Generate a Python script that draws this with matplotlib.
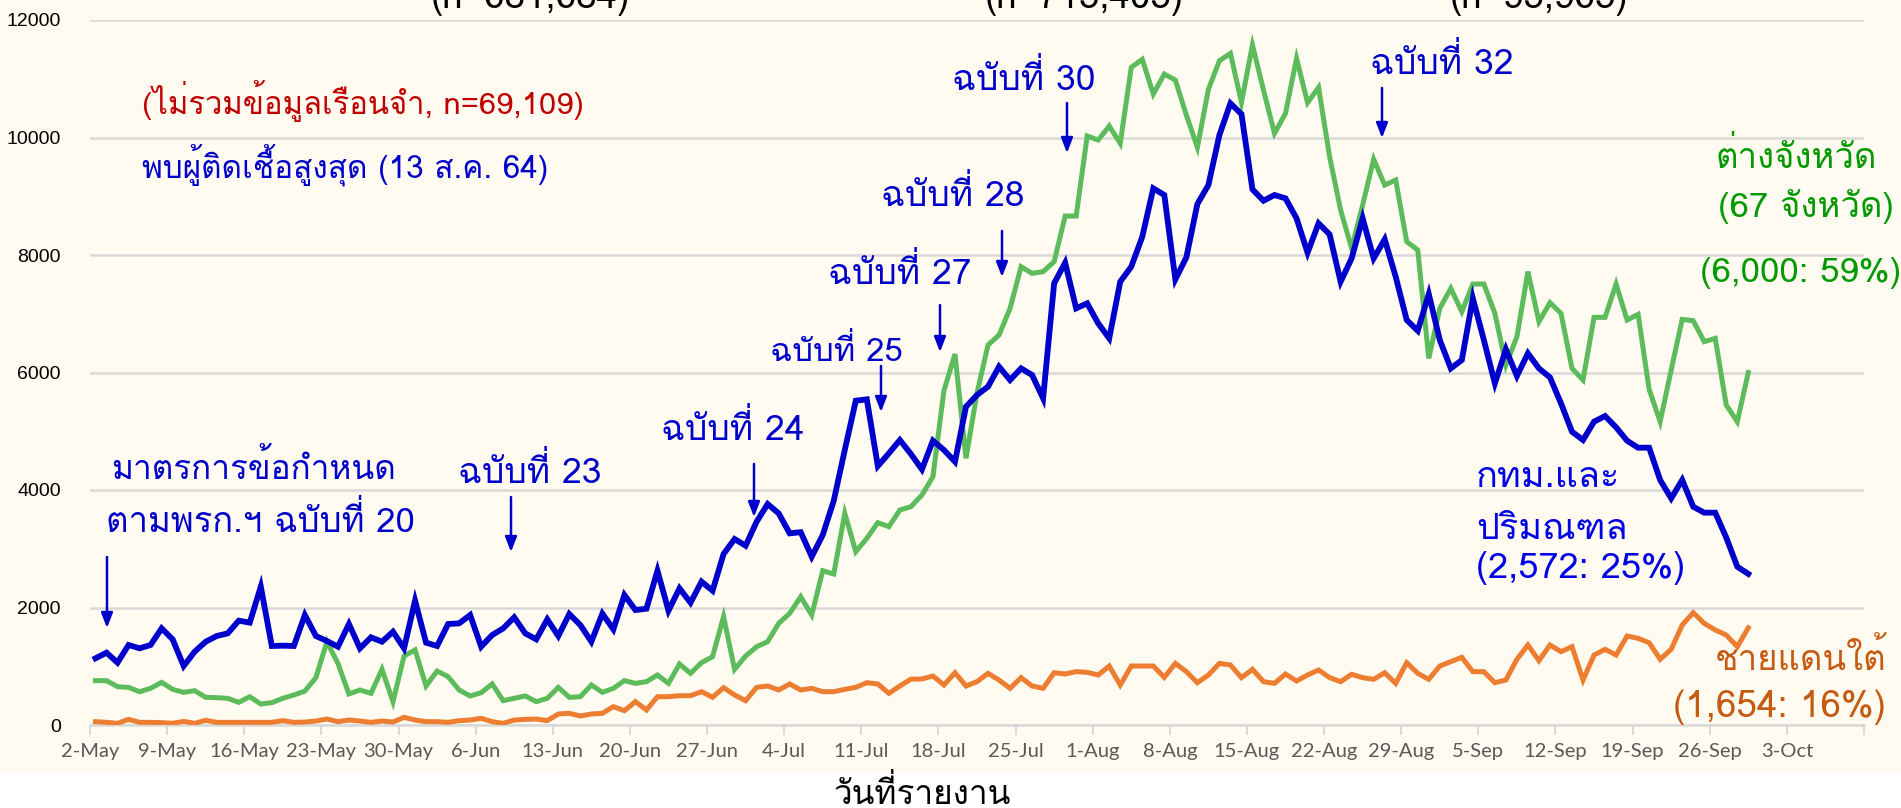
#!/usr/bin/env python3
"""Daily COVID-19 cases by region (Bangkok+vicinity / other provinces / southern border)."""

import matplotlib
matplotlib.use("Agg")
import matplotlib.pyplot as plt
from matplotlib import font_manager
from matplotlib.patches import Rectangle
import numpy as np

# ── fonts: find one that covers Thai ─────────────────────────────────
def find_thai_fonts():
    names = []
    try:
        from fontTools.ttLib import TTFont
    except Exception:
        return names
    for f in font_manager.fontManager.ttflist:
        try:
            tt = TTFont(f.fname, fontNumber=0, lazy=True)
            cmap = tt.getBestCmap() or {}
            if 0x0E01 in cmap and 0x0E49 in cmap and f.name not in names:
                names.append(f.name)
        except Exception:
            pass
    return names

thai = find_thai_fonts()
print("Thai fonts:", thai)
TXT = thai[:1] + ["DejaVu Sans"]
TICK = ["Lato", "DejaVu Sans"]

# ── data (reported daily cases, 2 May – 29 Sep 2021) ─────────────────
bkk = [1135, 1231, 1061, 1362, 1305, 1362, 1645, 1458, 1004, 1248, 1418, 1515, 1560, 1776, 1742,
       2355, 1345, 1350, 1345, 1872, 1515, 1430, 1333, 1719, 1305, 1492, 1418, 1588, 1305, 2116,
       1401, 1345, 1719, 1730, 1872, 1333, 1532, 1645, 1833, 1560, 1458, 1798, 1515, 1889, 1702,
       1418, 1895, 1628, 2213, 1957, 1980, 2627, 1946, 2326, 2082, 2440, 2286, 2910, 3166, 3052,
       3461, 3761, 3603, 3262, 3282, 2865, 3234, 3818, 4681, 5520, 5543, 4408, 4624, 4851, 4613,
       4351, 4840, 4681, 4482, 5418, 5617, 5759, 6099, 5872, 6070, 5957, 5560, 7517, 7869, 7092,
       7177, 6836, 6581, 7545, 7801, 8311, 9134, 9021, 7585, 7960, 8867, 9191, 10042, 10581, 10399,
       9117, 8924, 9021, 8964, 8624, 8039, 8539, 8351, 7545, 7943, 8624, 7943, 8266, 7630, 6893,
       6711, 7336, 6553, 6070, 6212, 7262, 6553, 5815, 6394, 5940, 6326, 6070, 5917, 5475, 4992,
       4851, 5163, 5259, 5067, 4839, 4720, 4720, 4170, 3858, 4170, 3716, 3614, 3614, 3190, 2695,
       2572]

prov = [755, 755, 652, 640, 567, 624, 726, 607, 556, 584, 471, 465, 454, 386, 482,
        357, 380, 454, 511, 578, 806, 1418, 1050, 528, 596, 539, 948, 397, 1174, 1277,
        664, 919, 823, 596, 494, 550, 698, 414, 454, 494, 397, 454, 641, 471, 482,
        681, 556, 624, 755, 709, 738, 851, 709, 1038, 879, 1061, 1163, 1844, 948, 1174,
        1333, 1418, 1730, 1900, 2184, 1872, 2627, 2570, 3603, 2950, 3177, 3444, 3376, 3659, 3716,
        3915, 4227, 5690, 6314, 4540, 5650, 6468, 6638, 7092, 7801, 7687, 7716, 7886, 8663, 8663,
        10025, 9957, 10195, 9900, 11193, 11330, 10740, 11080, 10978, 10382, 9832, 10819, 11307, 11432, 10598,
        11574, 10808, 10070, 10411, 11347, 10592, 10853, 9673, 8765, 8113, 8850, 9628, 9191, 9276, 8227,
        8085, 6241, 7092, 7432, 7035, 7506, 7506, 7007, 6127, 6609, 7716, 6865, 7188, 7007, 6070,
        5872, 6939, 6939, 7506, 6893, 6990, 5713, 5163, 6042, 6904, 6882, 6524, 6581, 5446, 5163,
        6000]

south = [57, 45, 28, 96, 45, 45, 40, 28, 62, 28, 80, 45, 45, 45, 45,
         45, 45, 74, 45, 50, 68, 102, 57, 85, 68, 45, 68, 51, 130, 85,
         57, 57, 45, 74, 85, 113, 57, 28, 85, 96, 102, 74, 187, 199, 153,
         187, 199, 312, 244, 397, 255, 482, 482, 499, 499, 567, 471, 635, 511, 414,
         641, 664, 596, 698, 596, 624, 567, 567, 607, 641, 720, 698, 539, 664, 780,
         783, 834, 681, 890, 664, 738, 879, 766, 624, 806, 664, 624, 890, 868, 908,
         896, 851, 1004, 681, 1004, 1004, 1004, 811, 1049, 908, 720, 851, 1049, 1021, 806,
         947, 738, 709, 868, 749, 851, 936, 806, 738, 862, 806, 777, 890, 709, 1061,
         879, 777, 1004, 1078, 1152, 908, 908, 720, 766, 1118, 1362, 1095, 1362, 1248, 1333,
         766, 1191, 1288, 1191, 1515, 1475, 1401, 1118, 1288, 1702, 1912, 1730, 1617, 1532, 1333,
         1654]

tick_labels = ["2-May", "9-May", "16-May", "23-May", "30-May", "6-Jun", "13-Jun", "20-Jun",
               "27-Jun", "4-Jul", "11-Jul", "18-Jul", "25-Jul", "1-Aug", "8-Aug", "15-Aug",
               "22-Aug", "29-Aug", "5-Sep", "12-Sep", "19-Sep", "26-Sep", "3-Oct", ""]
y_ticks = [0, 2000, 4000, 6000, 8000, 10000, 12000]

# (label, text x/y px, arrow x px, arrow y0/y1 px, size)
decrees = [
    ("ฉบับที่ 23", 530, 472, 511, 497, 552, 25.5),
    ("ฉบับที่ 24", 733, 428, 754, 464, 517, 25.5),
    ("ฉบับที่ 25", 836, 351, 881, 366, 412, 23.5),
    ("ฉบับที่ 27", 900, 272, 940, 305, 352, 25.5),
    ("ฉบับที่ 28", 953, 195, 1002, 231, 277, 25.5),
    ("ฉบับที่ 30", 1024, 78, 1067, 103, 153, 25.5),
    ("ฉบับที่ 32", 1442, 62, 1382, 88, 138, 25.5),
]

BLUE = "#0000CC"
GREEN = "#5CBB5A"
ORANGE = "#ED7D31"
CREAM = "#FFFBF0"

W, H = 1901, 808
fig = plt.figure(figsize=(W / 100, H / 100), dpi=100, facecolor="white")


def fx(x):
    return x / W


def fy(y):
    return 1 - y / H


fig.patches.append(Rectangle((0, fy(773)), 1, 1 - fy(773), transform=fig.transFigure,
                             facecolor=CREAM, edgecolor="none", zorder=-10))

ax = fig.add_axes([fx(90), fy(725), fx(1864) - fx(90), fy(20) - fy(725)])
ax.set_facecolor(CREAM)

days = np.arange(len(bkk))
ax.plot(days, south, color=ORANGE, lw=3.6, solid_joinstyle="miter", zorder=3)
ax.plot(days, prov, color=GREEN, lw=3.6, solid_joinstyle="miter", zorder=4)
ax.plot(days, bkk, color=BLUE, lw=4.2, solid_joinstyle="miter", zorder=5)

ax.set_xlim(-0.5, 160.5)
ax.set_ylim(0, 12000)
ax.set_xticks(np.arange(len(tick_labels)) * 7 - 0.5)
ax.set_xticklabels(tick_labels, family=TICK, fontsize=14.5, color="#595959")
ax.set_yticks(y_ticks)
ax.set_yticklabels([str(v) for v in y_ticks], family=["Liberation Sans", "DejaVu Sans"],
                   fontsize=14, color="black")
ax.tick_params(axis="y", length=0, pad=21)
ax.tick_params(axis="x", length=7, width=1.5, color="#D9D9D9", pad=6, direction="out")
ax.grid(axis="y", color="#D9D9D9", lw=1.8, zorder=0)
for s in ["top", "right", "left"]:
    ax.spines[s].set_visible(False)
ax.spines["bottom"].set_color("#D9D9D9")
ax.spines["bottom"].set_linewidth(1.8)

# ── text annotations ─────────────────────────────────────────────────
def t(x, y, s, color, size=25.5, ha="center", **kw):
    fig.text(fx(x), fy(y), s, color=color, fontsize=size, ha=ha, va="center",
             family=TXT, **kw)


def arrow(x, y0, y1):
    ax.annotate("", xy=(fx(x), fy(y1)), xytext=(fx(x), fy(y0)),
                xycoords="figure fraction", textcoords="figure fraction",
                arrowprops=dict(arrowstyle="-|>,head_length=0.9,head_width=0.35",
                                color=BLUE, lw=1.8, shrinkA=0, shrinkB=0),
                annotation_clip=False, zorder=6)


t(530, -2, "(n=681,684)", "black", 26.5)
t(1084, -2, "(n=715,405)", "black", 26.5)
t(1539, -2, "(n=95,965)", "black", 26.5)

t(142, 101, "(ไม่รวมข้อมูลเรือนจำ, n=69,109)", "#C00000", 22.3, ha="left")
t(142, 165, "พบผู้ติดเชื้อสูงสุด (13 ส.ค. 64)", BLUE, 22.7, ha="left")

t(254, 468, "มาตรการข้อกำหนด", BLUE, 24)
t(260, 520, "ตามพรก.ฯ ฉบับที่ 20", BLUE, 25)
arrow(107, 557, 628)

for label, tx, ty, axx, ay0, ay1, sz in decrees:
    t(tx, ty, label, BLUE, sz)
    arrow(axx, ay0, ay1)

t(1796, 157, "ต่างจังหวัด", "#009900", 25)
t(1806, 207, "(67 จังหวัด)", "#009900", 25)
t(1801, 273, "(6,000: 59%)", "#009900", 25)

t(1476, 478, "กทม.และ", "#0000E6", 26, ha="left")
t(1476, 530, "ปริมณฑล", "#0000E6", 26, ha="left")
t(1476, 568, "(2,572: 25%)", "#0000E6", 26, ha="left")

t(1886, 658, "ชายแดนใต้", "#C55A11", 25, ha="right")
t(1886, 707, "(1,654: 16%)", "#C55A11", 26.5, ha="right")

t(922, 794, "วันที่รายงาน", "black", 24)

fig.savefig("out.png", dpi=100, facecolor="white")
print("saved out.png")
